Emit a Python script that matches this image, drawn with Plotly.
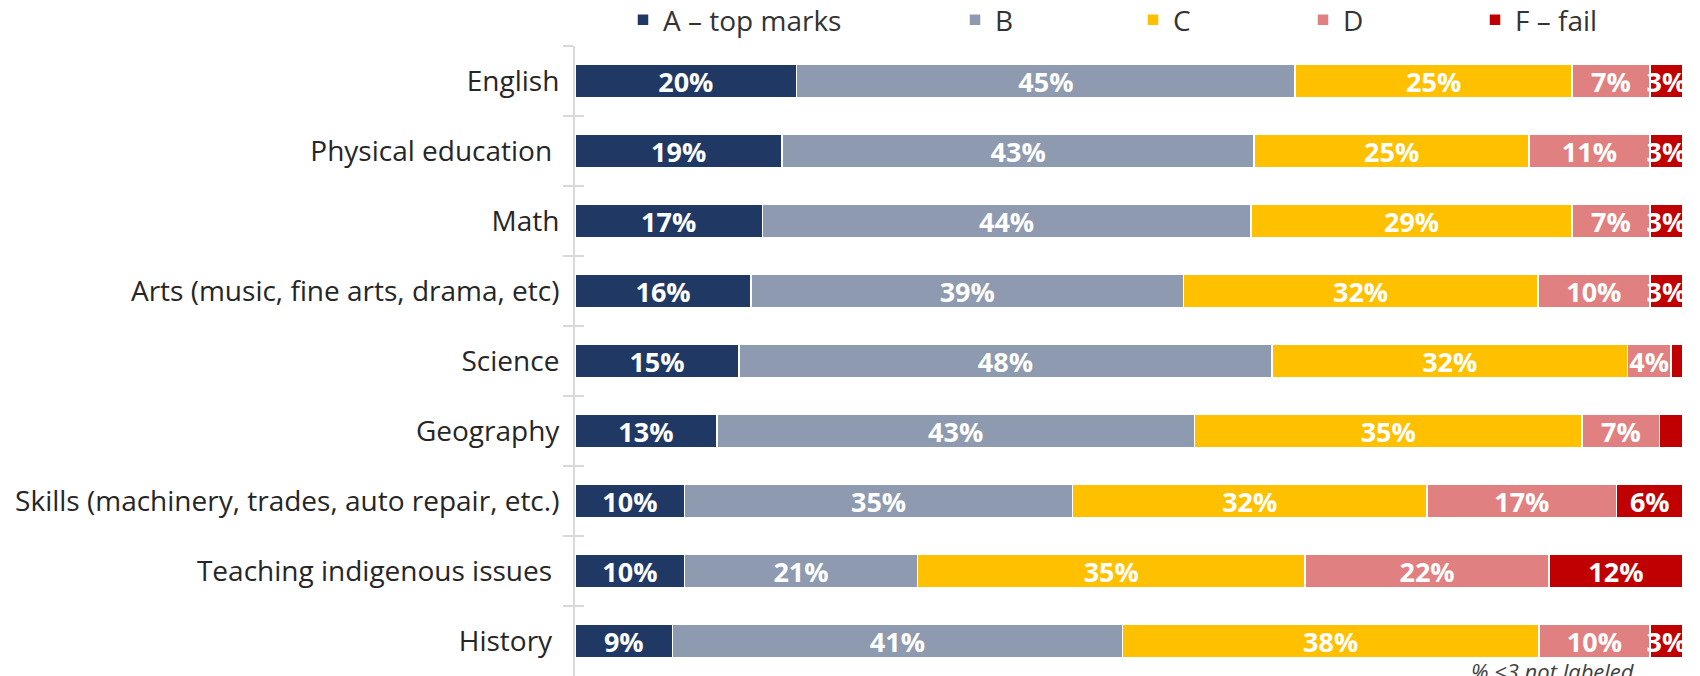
import plotly.graph_objects as go

# Subjects, top to bottom
subjects = [
    "English",
    "Physical education\u00a0",
    "Math",
    "Arts (music, fine arts, drama, etc)",
    "Science",
    "Geography",
    "Skills (machinery, trades, auto repair, etc.)",
    "Teaching indigenous issues\u00a0",
    "History\u00a0",
]

# Share of each grade (%) per subject
grade_a = [20.0, 18.7, 16.9, 15.9, 14.8, 12.8, 9.9, 9.9, 8.8]
grade_b = [45.0, 42.6, 44.1, 39.0, 48.1, 43.1, 35.0, 21.0, 40.6]
grade_c = [25.0, 24.8, 29.0, 32.0, 32.1, 35.0, 32.0, 35.0, 37.6]
grade_d = [7.0, 10.9, 7.0, 10.1, 3.9, 7.0, 17.1, 22.0, 10.0]
grade_f = [3.0, 3.0, 3.0, 3.0, 1.1, 2.1, 6.0, 12.1, 3.0]

series_names = ["A \u2013 top marks", "B", "C", "D", "F \u2013 fail"]
series_values = [grade_a, grade_b, grade_c, grade_d, grade_f]
series_colors = ["#1F3864", "#8E9AAF", "#FFC000", "#E08080", "#C00000"]

FONT = "Open Sans"
W, H = 1700, 676
L, R, T = 575, 17, 46
PLOT_W = W - L - R

# where each legend symbol sits (px from the left of the page)
legend_px = [643, 975, 1153, 1323, 1495]

fig = go.Figure()

for i, (name, vals, color) in enumerate(zip(series_names, series_values, series_colors)):
    # values under 3% are left unlabeled
    labels = [f"{v:.0f}%" if v >= 2.5 else "" for v in vals]
    fig.add_trace(go.Bar(
        y=subjects,
        x=vals,
        name=name,
        orientation="h",
        marker=dict(color=color, line=dict(color="white", width=1.5)),
        text=labels,
        textposition="inside",
        insidetextanchor="middle",
        textangle=0,
        constraintext="none",
        cliponaxis=True,
        textfont=dict(family=FONT, size=27, color="white", weight="bold"),
        legend="legend" if i == 0 else f"legend{i + 1}",
        hoverinfo="skip",
    ))

# dummy trace so the overlay axis knows the categories (draws the inner tick halves)
fig.add_trace(go.Scatter(
    x=[None] * len(subjects), y=subjects, yaxis="y2",
    mode="markers", showlegend=False, hoverinfo="skip",
))

legend_layout = {}
for i, px_pos in enumerate(legend_px):
    key = "legend" if i == 0 else f"legend{i + 1}"
    legend_layout[key] = dict(
        xref="container",
        yref="container",
        x=(px_pos - 20) / W,
        xanchor="left",
        y=1 - 20 / H,
        yanchor="middle",
        orientation="h",
        bgcolor="rgba(0,0,0,0)",
        font=dict(family=FONT, size=28, color="#333333"),
    )

fig.update_layout(
    width=W,
    height=H,
    barmode="stack",
    bargap=0.52,
    plot_bgcolor="white",
    paper_bgcolor="white",
    margin=dict(l=L, r=R, t=T, b=0, autoexpand=False),
    font=dict(family=FONT, color="#262626"),
    xaxis=dict(
        range=[0, 100],
        visible=False,
        fixedrange=True,
    ),
    yaxis=dict(
        categoryorder="array",
        categoryarray=subjects,
        autorange="reversed",
        automargin=False,
        showline=True,
        linecolor="#D9D9D9",
        linewidth=2,
        ticks="outside",
        tickson="boundaries",
        ticklen=10,
        tickwidth=2,
        tickcolor="#D9D9D9",
        ticklabelstandoff=8,
        tickfont=dict(family=FONT, size=28, color="#262626"),
        showgrid=False,
    ),
    yaxis2=dict(
        overlaying="y",
        side="left",
        categoryorder="array",
        categoryarray=subjects,
        autorange="reversed",
        automargin=False,
        ticks="inside",
        tickson="boundaries",
        ticklen=9,
        tickwidth=2,
        tickcolor="#D9D9D9",
        showticklabels=False,
        showline=False,
        showgrid=False,
    ),
    annotations=[dict(
        text="% <3 not labeled",
        xref="paper", yref="paper",
        x=(1553 - L) / PLOT_W, y=0.035,
        xanchor="center", yanchor="top",
        showarrow=False,
        font=dict(family=FONT, size=22, color="#404040", style="italic"),
    )],
    **legend_layout,
)

# drop the default page margin so the figure sits at the window's corner
fig.write_html(
    "out.html",
    config={"displayModeBar": False},
    post_script="document.body.style.margin='0';",
)
